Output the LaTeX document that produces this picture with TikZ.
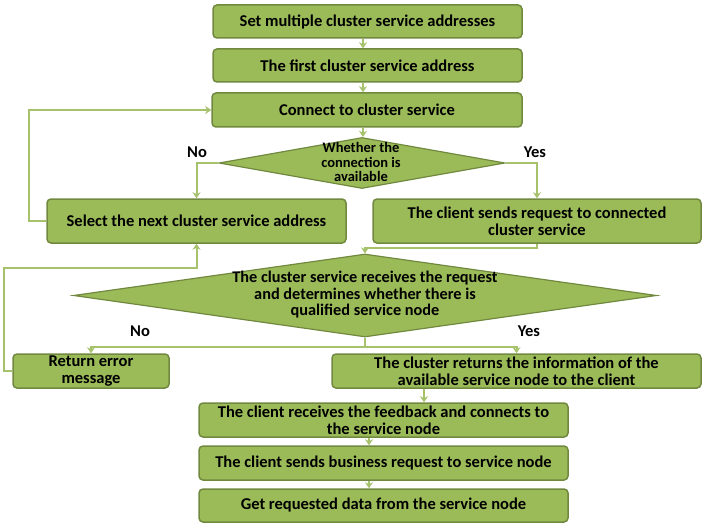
\documentclass[tikz,border=0pt]{standalone}
\usepackage{fontspec}
\setmainfont{Carlito}
\usetikzlibrary{shapes.geometric,arrows.meta,calc}
\definecolor{boxfill}{HTML}{9BBB59}
\definecolor{boxline}{HTML}{71893F}
\definecolor{conn}{HTML}{A6C26C}
\tikzset{
  stepbox/.style={draw=boxline, fill=boxfill, line width=1.5pt, rounded corners=4pt,
    inner sep=0pt, align=center, font=\bfseries\fontsize{16.5}{17}\selectfont},
  decbox/.style={draw=boxline, fill=boxfill, line width=1.2pt, shape=diamond, inner sep=0pt},
  dtext/.style={align=center, inner sep=0pt},
  arr/.style={draw=conn, line width=2pt, -{Stealth[length=6pt,width=8pt]}},
  ln/.style={draw=conn, line width=2pt},
  lbl/.style={font=\bfseries\fontsize{16.5}{17}\selectfont, inner sep=0pt}
}
\begin{document}
\begin{tikzpicture}[x=1pt,y=-1pt]
\useasboundingbox (0,0) rectangle (705,527);
% boxes
\node[stepbox, minimum width=309pt, minimum height=33pt] (b1) at (367.5,21.5) {Set multiple cluster service addresses};
\node[stepbox, minimum width=309pt, minimum height=33pt] (b2) at (367.5,65.5) {The first cluster service address};
\node[stepbox, minimum width=310pt, minimum height=34pt] (b3) at (367,110) {Connect to cluster service};
\node[decbox, minimum width=286pt, minimum height=51pt] (d1) at (362,163) {};
\node[dtext, font=\bfseries\fontsize{14.5}{14.5}\selectfont] (d1t) at (361,162) {Whether the\\connection is\\available};
\node[stepbox, minimum width=299pt, minimum height=44pt] (sel) at (196.5,221) {Select the next cluster service address};
\node[stepbox, minimum width=328pt, minimum height=44pt] (cli) at (537,221) {The client sends request to connected\\cluster service};
\node[decbox, minimum width=583pt, minimum height=83pt] (d2) at (365,295.5) {};
\node[dtext, font=\bfseries\fontsize{16.3}{16.5}\selectfont] (d2t) at (365,295) {The cluster service receives the request\\and determines whether there is\\qualified service node};
\node[stepbox, minimum width=156pt, minimum height=34pt] (err) at (91,371) {Return error\\message};
\node[stepbox, minimum width=369pt, minimum height=34pt] (ret) at (516.5,371) {The cluster returns the information of the\\available service node to the client};
\node[stepbox, minimum width=369pt, minimum height=34pt] (r1) at (383.5,420) {The client receives the feedback and connects to\\the service node};
\node[stepbox, minimum width=369pt, minimum height=34pt] (r2) at (383.5,463) {The client sends business request to service node};
\node[stepbox, minimum width=369pt, minimum height=33pt] (r3) at (383.5,505.5) {Get requested data from the service node};
% labels
\node[lbl] (no1) at (197,152) {No};
\node[lbl] (yes1) at (535,152) {Yes};
\node[lbl] (no2) at (140,331) {No};
\node[lbl] (yes2) at (529,331) {Yes};
% helper coordinates
\coordinate (xa) at (363,0);
\coordinate (lx) at (29,0);
\coordinate (m2) at (4,268);
\coordinate (xk) at (424,0);
\coordinate (xr) at (369,0);
% connectors
\draw[arr] (b1.south -| xa) -- (b2.north -| xa);
\draw[arr] (b2.south -| xa) -- (b3.north -| xa);
\draw[arr] (b3.south -| xa) -- (d1.north -| xa);
\draw[arr] (d1.west) -| (sel.north);
\draw[arr] (d1.east) -| (cli.north);
\draw[arr] (sel.west) -- (sel.west -| lx) |- (b3.west);
\draw[arr] (cli.south) -- ++(0,4) -| (d2.north);
\draw[ln] (d2.south) -- ++(0,9) coordinate (split);
\draw[arr] (split) -| (err.north);
\draw[arr] (split) -| (ret.north);
\draw[arr] (err.west) -| (m2) -| (sel.south);
\draw[arr] (ret.south -| xk) -- (r1.north -| xk);
\draw[arr] (r1.south -| xr) -- (r2.north -| xr);
\draw[arr] (r2.south -| xr) -- (r3.north -| xr);
\end{tikzpicture}
\end{document}
